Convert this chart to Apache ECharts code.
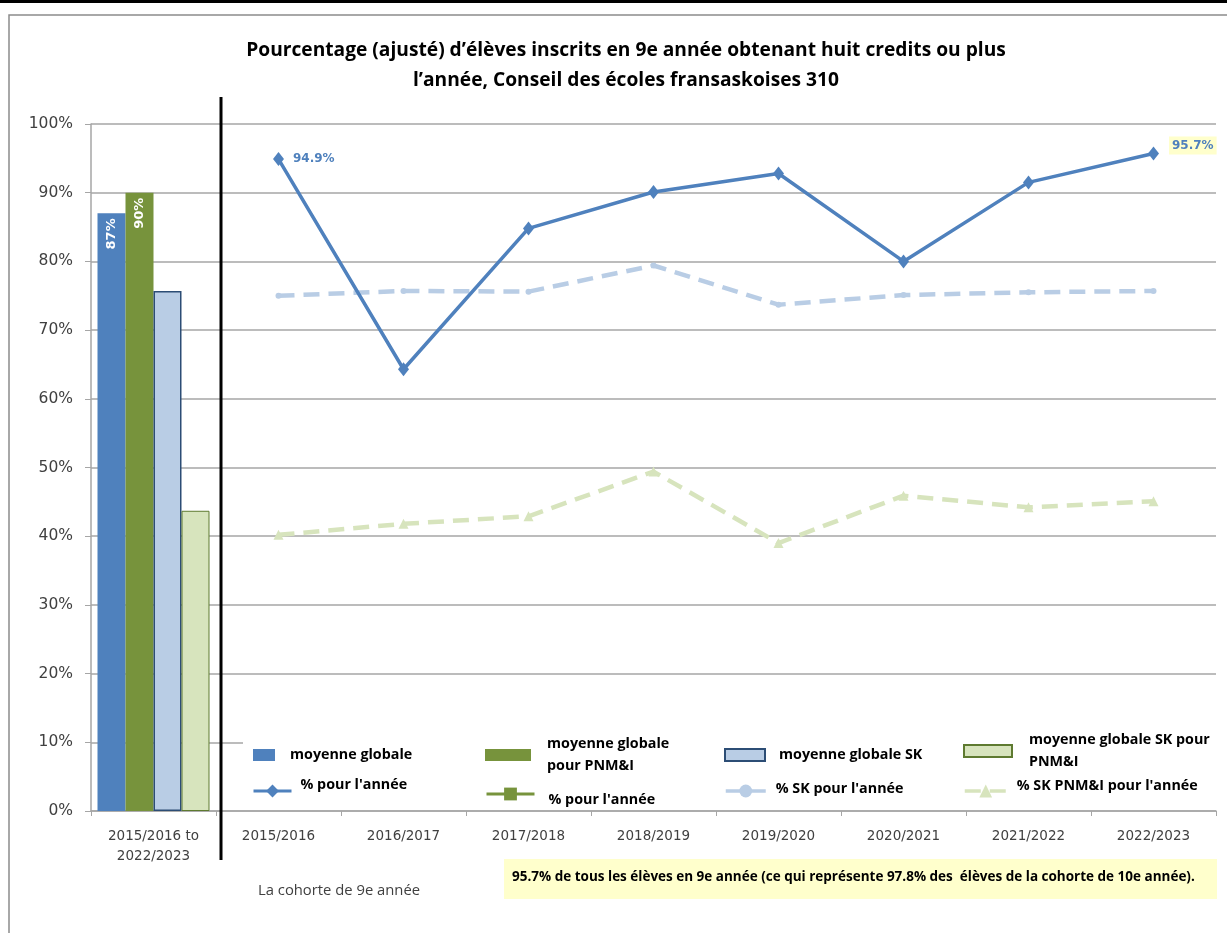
<!DOCTYPE html>
<html>
<head>
<meta charset="utf-8">
<script src="https://cdn.jsdelivr.net/npm/echarts@6/dist/echarts.min.js"></script>
<style>
  html, body { margin: 0; padding: 0; background: #fff; }
  #chart { width: 1227px; height: 933px; }
</style>
</head>
<body>
<div id="chart"></div>
<script>
// Categories: the overall period first, then each school year
const categories = ['2015/2016 to\n2022/2023', '2015/2016', '2016/2017', '2017/2018', '2018/2019',
                    '2019/2020', '2020/2021', '2021/2022', '2022/2023'];

// Overall averages for 2015/2016 to 2022/2023 (%)
const avgGlobal = 87;
const avgGlobalPNMI = 90;
const avgGlobalSK = 75.7;
const avgGlobalSKPNMI = 43.7;

// Yearly percentages (%)
const pctYear = [94.9, 64.3, 84.8, 90.1, 92.8, 80.0, 91.5, 95.7];
const pctYearPNMI = [null, null, null, null, null, null, null, null];
const pctSKYear = [75.0, 75.7, 75.6, 79.4, 73.7, 75.1, 75.5, 75.7];
const pctSKPNMIYear = [40.2, 41.8, 42.9, 49.4, 39.0, 45.9, 44.2, 45.1];

const noteText = '95.7% de tous les élèves en 9e année (ce qui représente 97.8% des  élèves de la cohorte de 10e année).';
const cohortText = 'La cohorte de 9e année';
const titleText = 'Pourcentage (ajusté) d’élèves inscrits en 9e année obtenant huit credits ou plus\nl’année, Conseil des écoles fransaskoises 310';

const C_BLUE = '#4F81BD', C_GREEN = '#77933C', C_LBLUE = '#B9CDE5', C_LGREEN = '#D7E4BD';
const GRID_GRAY = '#A6A6A6';

// bar data: value in the first (overall) category only
const barData = v => [v].concat(categories.slice(1).map(() => null));
// line data: nothing in the overall category
const lineData = arr => [null].concat(arr);

const barLabel = {
  show: true, position: 'insideTop', rotate: 90, align: 'right', verticalAlign: 'middle',
  distance: 5, formatter: '{c}%', color: '#fff',
  fontFamily: 'DejaVu Sans', fontWeight: 'bold', fontSize: 13
};

const blueLineData = lineData(pctYear.map((v, i) => {
  const lbl = { show: true, formatter: '{c}%', color: C_BLUE, fontFamily: 'DejaVu Sans',
                fontWeight: 'bold', fontSize: 12 };
  if (i === 0) return { value: v, label: Object.assign({ position: 'right', distance: 9 }, lbl) };
  if (i === pctYear.length - 1)
    return { value: v, label: Object.assign({ position: 'right', distance: 12, offset: [-2, -8],
             backgroundColor: '#FFFFCC', padding: [3, 3, 3, 3] }, lbl) };
  return v;
}));

const legendFont = { fontFamily: 'Open Sans', fontWeight: 'bold', fontSize: 14.3, color: '#000', lineHeight: 22 };

// one legend per entry so the entries sit on a 4 x 2 layout
function legendItem(name, left, top, o) {
  const text = o.label || name;
  const item = {
    data: [name], left: left, top: top, padding: 0, itemGap: 0, selectedMode: false,
    orient: 'horizontal', itemWidth: o.w, itemHeight: o.h, icon: o.icon,
    formatter: () => text.split('\n').map(s => '{t|' + s + '}').join('\n'),
    textStyle: Object.assign({}, legendFont, {
      rich: { t: Object.assign({}, legendFont, { padding: o.pad || [0, 0, 0, 0] }) }
    })
  };
  if (o.lineWidth) item.lineStyle = { width: o.lineWidth };
  return item;
}

const chart = echarts.init(document.getElementById('chart'), null, { renderer: 'canvas' });

chart.setOption({
  backgroundColor: '#fff',
  animation: false,
  title: {
    text: titleText, left: 626, top: 36, textAlign: 'center', padding: 0,
    textStyle: { fontFamily: 'Open Sans', fontWeight: 'bold', fontSize: 19.2, lineHeight: 30, color: '#000' }
  },
  grid: { left: 91, right: 11, top: 124, bottom: 122, containLabel: false },
  xAxis: {
    type: 'category', data: categories, boundaryGap: true,
    axisLine: { lineStyle: { color: GRID_GRAY, width: 1.5 } },
    axisTick: { show: true, length: 5, lineStyle: { color: GRID_GRAY } },
    axisLabel: { interval: 0, margin: 15, color: '#404040', fontFamily: 'DejaVu Sans', fontSize: 13.5, lineHeight: 20 }
  },
  yAxis: {
    type: 'value', min: 0, max: 100, interval: 10,
    axisLine: { show: true, lineStyle: { color: GRID_GRAY, width: 1.5 } },
    axisTick: { show: true, length: 6, lineStyle: { color: GRID_GRAY } },
    axisLabel: { formatter: '{value}%', margin: 18, color: '#404040', fontFamily: 'DejaVu Sans', fontSize: 15.5 },
    splitLine: { lineStyle: { color: GRID_GRAY, width: 1.5 } }
  },
  legend: [
    legendItem('moyenne globale', 253, 744, { w: 22, h: 12, icon: 'rect', pad: [0, 0, 0, 10] }),
    legendItem('moyenne globale pour PNM&I', 485, 733, { w: 46, h: 12, icon: 'rect', pad: [0, 0, 0, 11], label: 'moyenne globale\npour PNM&I' }),
    legendItem('moyenne globale SK', 724, 744, { w: 40, h: 12, icon: 'rect', pad: [0, 0, 0, 9] }),
    legendItem('moyenne globale SK pour PNM&I', 963, 729, { w: 48, h: 12, icon: 'rect', pad: [0, 0, 0, 12], label: 'moyenne globale SK pour\nPNM&I' }),
    legendItem("% pour l'année", 252, 778, { w: 38, h: 16, lineWidth: 3, pad: [0, 0, 12, 4] }),
    legendItem("% pour l'année (PNM&I)", 485, 781, { w: 48, h: 16, lineWidth: 3, pad: [12, 0, 0, 9], label: "% pour l'année" }),
    legendItem("% SK pour l'année", 724, 780, { w: 40, h: 16, lineWidth: 3.5, pad: [0, 0, 5, 5] }),
    legendItem("% SK PNM&I pour l'année", 963, 779, { w: 42, h: 16, lineWidth: 3.5, pad: [0, 0, 10, 5] })
  ],
  series: [
    { name: 'moyenne globale', type: 'bar', data: barData(avgGlobal), barWidth: 28, barGap: '0%',
      itemStyle: { color: C_BLUE }, label: barLabel },
    { name: 'moyenne globale pour PNM&I', type: 'bar', data: barData(avgGlobalPNMI), barWidth: 28, barGap: '0%',
      itemStyle: { color: C_GREEN }, label: barLabel },
    { name: 'moyenne globale SK', type: 'bar', data: barData(avgGlobalSK), barWidth: 28, barGap: '0%',
      itemStyle: { color: C_LBLUE, borderColor: '#2C4D75', borderWidth: 1.5 } },
    { name: 'moyenne globale SK pour PNM&I', type: 'bar', data: barData(avgGlobalSKPNMI), barWidth: 28, barGap: '0%',
      itemStyle: { color: C_LGREEN, borderColor: '#5E7A30', borderWidth: 1 } },
    { name: "% pour l'année", type: 'line', data: blueLineData, connectNulls: false,
      symbol: 'diamond', symbolSize: [11, 14], lineStyle: { color: C_BLUE, width: 3.5 },
      itemStyle: { color: C_BLUE }, z: 5 },
    { name: "% pour l'année (PNM&I)", type: 'line', data: lineData(pctYearPNMI),
      symbol: 'rect', symbolSize: 10, lineStyle: { color: C_GREEN, width: 3 }, itemStyle: { color: C_GREEN } },
    { name: "% SK pour l'année", type: 'line', data: lineData(pctSKYear),
      symbol: 'circle', symbolSize: 6, lineStyle: { color: C_LBLUE, width: 4.5, type: [16, 9] },
      itemStyle: { color: C_LBLUE } },
    { name: "% SK PNM&I pour l'année", type: 'line', data: lineData(pctSKPNMIYear),
      symbol: 'triangle', symbolSize: 10, lineStyle: { color: C_LGREEN, width: 4.5, type: [16, 9] },
      itemStyle: { color: C_LGREEN } }
  ],
  graphic: [
    // page frame
    { type: 'rect', shape: { x: 0, y: 0, width: 1227, height: 3 }, style: { fill: '#000' }, silent: true },
    { type: 'polyline', shape: { points: [[9, 933], [9, 15], [1227, 15]] },
      style: { stroke: '#8C8C8C', lineWidth: 1.5, fill: null }, silent: true },
    // white panel behind the legend
    { type: 'rect', shape: { x: 243, y: 722, width: 974, height: 86 }, style: { fill: '#fff' }, z: 3, silent: true },
    // separator between the overall averages and the yearly series
    { type: 'line', shape: { x1: 221, y1: 97, x2: 221, y2: 860 }, style: { stroke: '#000', lineWidth: 3 }, z: 6, silent: true },
    { type: 'text', x: 258, y: 891, style: { text: cohortText, fill: '#404040', font: '14.8px "Open Sans"',
      verticalAlign: 'middle' }, silent: true },
    { type: 'rect', shape: { x: 504, y: 859, width: 713, height: 40 }, style: { fill: '#FFFFCC' }, silent: true },
    { type: 'text', x: 512, y: 877, style: { text: noteText, fill: '#000', font: 'bold 13.5px "Open Sans"',
      verticalAlign: 'middle' }, silent: true }
  ]
});
</script>
</body>
</html>
